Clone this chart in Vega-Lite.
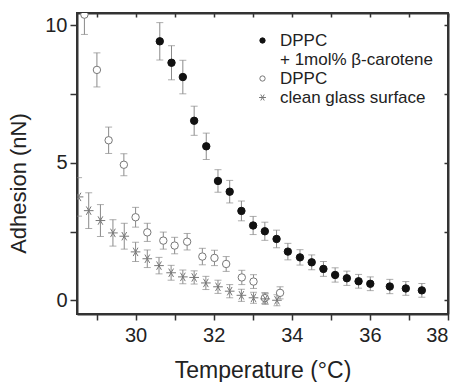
{
  "$schema": "https://vega.github.io/schema/vega-lite/v6.json",
  "width": 371,
  "height": 301,
  "autosize": {"type": "none"},
  "padding": {"left": 77, "top": 13, "right": 14, "bottom": 68},
  "background": "#ffffff",
  "config": {
    "view": {"stroke": "#333333", "strokeWidth": 2},
    "font": "Liberation Sans",
    "axis": {
      "labelFont": "Liberation Sans",
      "titleFont": "Liberation Sans",
      "labelColor": "#222222",
      "titleColor": "#222222",
      "titleFontWeight": "normal",
      "domain": true,
      "ticks": true,
      "domainColor": "#333333",
      "domainWidth": 2,
      "domainOpacity": 1,
      "tickColor": "#333333",
      "tickWidth": 1.5,
      "tickOpacity": 1,
      "grid": false,
      "labelFontSize": 20,
      "titleFontSize": 23
    }
  },
  "data": {
    "values": [
      {"series": "DPPC + 1mol% β-carotene", "T": 30.62, "A": 9.42, "err": 0.68},
      {"series": "DPPC + 1mol% β-carotene", "T": 30.92, "A": 8.64, "err": 0.62},
      {"series": "DPPC + 1mol% β-carotene", "T": 31.21, "A": 8.12, "err": 0.61},
      {"series": "DPPC + 1mol% β-carotene", "T": 31.5, "A": 6.53, "err": 0.53},
      {"series": "DPPC + 1mol% β-carotene", "T": 31.81, "A": 5.6, "err": 0.48},
      {"series": "DPPC + 1mol% β-carotene", "T": 32.11, "A": 4.34, "err": 0.41},
      {"series": "DPPC + 1mol% β-carotene", "T": 32.41, "A": 3.95, "err": 0.41},
      {"series": "DPPC + 1mol% β-carotene", "T": 32.71, "A": 3.25, "err": 0.36},
      {"series": "DPPC + 1mol% β-carotene", "T": 33.01, "A": 2.72, "err": 0.33},
      {"series": "DPPC + 1mol% β-carotene", "T": 33.31, "A": 2.51, "err": 0.33},
      {"series": "DPPC + 1mol% β-carotene", "T": 33.61, "A": 2.23, "err": 0.32},
      {"series": "DPPC + 1mol% β-carotene", "T": 33.9, "A": 1.77, "err": 0.3},
      {"series": "DPPC + 1mol% β-carotene", "T": 34.21, "A": 1.56, "err": 0.28},
      {"series": "DPPC + 1mol% β-carotene", "T": 34.51, "A": 1.38, "err": 0.27},
      {"series": "DPPC + 1mol% β-carotene", "T": 34.81, "A": 1.14, "err": 0.27},
      {"series": "DPPC + 1mol% β-carotene", "T": 35.11, "A": 0.92, "err": 0.26},
      {"series": "DPPC + 1mol% β-carotene", "T": 35.41, "A": 0.8, "err": 0.26},
      {"series": "DPPC + 1mol% β-carotene", "T": 35.71, "A": 0.69, "err": 0.25},
      {"series": "DPPC + 1mol% β-carotene", "T": 36.01, "A": 0.6, "err": 0.25},
      {"series": "DPPC + 1mol% β-carotene", "T": 36.51, "A": 0.5, "err": 0.26},
      {"series": "DPPC + 1mol% β-carotene", "T": 36.92, "A": 0.43, "err": 0.25},
      {"series": "DPPC + 1mol% β-carotene", "T": 37.33, "A": 0.36, "err": 0.25},
      {"series": "DPPC", "T": 28.69, "A": 10.39, "err": 0.72},
      {"series": "DPPC", "T": 29.01, "A": 8.38, "err": 0.62},
      {"series": "DPPC", "T": 29.31, "A": 5.82, "err": 0.48},
      {"series": "DPPC", "T": 29.7, "A": 4.93, "err": 0.4},
      {"series": "DPPC", "T": 30.0, "A": 3.02, "err": 0.36},
      {"series": "DPPC", "T": 30.3, "A": 2.47, "err": 0.33},
      {"series": "DPPC", "T": 30.71, "A": 2.17, "err": 0.31},
      {"series": "DPPC", "T": 31.0, "A": 1.99, "err": 0.3},
      {"series": "DPPC", "T": 31.32, "A": 2.13, "err": 0.3},
      {"series": "DPPC", "T": 31.71, "A": 1.59, "err": 0.3},
      {"series": "DPPC", "T": 32.02, "A": 1.54, "err": 0.28},
      {"series": "DPPC", "T": 32.32, "A": 1.32, "err": 0.27},
      {"series": "DPPC", "T": 32.72, "A": 0.83, "err": 0.26},
      {"series": "DPPC", "T": 33.02, "A": 0.68, "err": 0.25},
      {"series": "DPPC", "T": 33.31, "A": 0.08, "err": 0.2},
      {"series": "DPPC", "T": 33.7, "A": 0.27, "err": 0.22},
      {"series": "clean glass surface", "T": 28.54, "A": 3.76, "err": 0.7},
      {"series": "clean glass surface", "T": 28.8, "A": 3.26, "err": 0.65},
      {"series": "clean glass surface", "T": 29.1, "A": 2.9, "err": 0.58},
      {"series": "clean glass surface", "T": 29.42, "A": 2.45, "err": 0.48},
      {"series": "clean glass surface", "T": 29.71, "A": 2.33, "err": 0.47},
      {"series": "clean glass surface", "T": 30.0, "A": 1.76, "err": 0.35},
      {"series": "clean glass surface", "T": 30.3, "A": 1.51, "err": 0.32},
      {"series": "clean glass surface", "T": 30.6, "A": 1.26, "err": 0.3},
      {"series": "clean glass surface", "T": 30.91, "A": 1.0, "err": 0.27},
      {"series": "clean glass surface", "T": 31.21, "A": 0.85, "err": 0.25},
      {"series": "clean glass surface", "T": 31.5, "A": 0.83, "err": 0.24},
      {"series": "clean glass surface", "T": 31.8, "A": 0.63, "err": 0.24},
      {"series": "clean glass surface", "T": 32.11, "A": 0.49, "err": 0.24},
      {"series": "clean glass surface", "T": 32.41, "A": 0.33, "err": 0.24},
      {"series": "clean glass surface", "T": 32.71, "A": 0.18, "err": 0.22},
      {"series": "clean glass surface", "T": 33.02, "A": 0.09, "err": 0.2},
      {"series": "clean glass surface", "T": 33.32, "A": 0.05, "err": 0.2},
      {"series": "clean glass surface", "T": 33.62, "A": 0.0, "err": 0.2}
    ]
  },
  "resolve": {"scale": {"x": "shared", "y": "shared"}, "axis": {"x": "independent", "y": "independent"}},
  "layer": [
    {
      "mark": {"type": "point", "opacity": 0},
      "encoding": {
        "x": {
          "field": "T", "type": "quantitative",
          "scale": {"domain": [28.5, 38], "nice": false, "zero": false},
          "axis": {
            "orient": "bottom", "title": "Temperature (°C)",
            "values": [29, 30, 31, 32, 33, 34, 35, 36, 37, 38],
            "labelExpr": "datum.value % 2 === 0 ? datum.label : ''",
            "tickSize": 6,
            "labelPadding": 5, "titlePadding": 14
          }
        },
        "y": {
          "field": "A", "type": "quantitative",
          "scale": {"domain": [-0.5, 10.45], "nice": false, "zero": false},
          "axis": {
            "orient": "left", "title": "Adhesion (nN)", "titleFontSize": 22,
            "values": [0, 2.5, 5, 7.5, 10],
            "labelExpr": "datum.value % 5 === 0 ? datum.label : ''",
            "tickSize": 7,
            "labelPadding": 3, "titlePadding": 14, "titleY": 170
          }
        }
      }
    },
    {
      "mark": {"type": "point", "opacity": 0},
      "encoding": {
        "x": {
          "field": "T", "type": "quantitative",
          "axis": {
            "orient": "top", "title": null, "labels": false,
            "values": [29, 30, 31, 32, 33, 34, 35, 36, 37, 38],
            "tickSize": -4
          }
        },
        "y": {
          "field": "A", "type": "quantitative",
          "axis": {
            "orient": "right", "title": null, "labels": false,
            "values": [0, 2.5, 5, 7.5, 10],
            "tickSize": -4
          }
        }
      }
    },
    {
      "mark": {"type": "errorbar", "color": "#8a8a8a", "clip": true, "ticks": {"size": 7, "thickness": 1, "color": "#8a8a8a"}, "rule": {"strokeWidth": 1}},
      "encoding": {
        "x": {"field": "T", "type": "quantitative", "axis": null},
        "y": {"field": "A", "type": "quantitative", "axis": null},
        "yError": {"field": "err"}
      }
    },
    {
      "mark": {"type": "point", "opacity": 1, "strokeWidth": 1, "clip": true},
      "encoding": {
        "x": {"field": "T", "type": "quantitative", "axis": null},
        "y": {"field": "A", "type": "quantitative", "axis": null},
        "shape": {
          "field": "series", "type": "nominal",
          "scale": {
            "domain": ["DPPC + 1mol% β-carotene", "+ 1mol% β-carotene", "DPPC", "clean glass surface"],
            "range": ["circle", "circle", "circle", "M-1.3,0L1.3,0M-0.65,-1.13L0.65,1.13M-0.65,1.13L0.65,-1.13"]
          },
          "legend": {"orient": "none", "legendX": 177, "legendY": 19, "title": null, "labelFont": "Liberation Sans", "labelFontSize": 17, "labelColor": "#222222", "symbolSize": 28, "rowPadding": 1, "labelOffset": 9, "padding": 0, "labelExpr": "datum.label === 'DPPC + 1mol% β-carotene' ? 'DPPC' : datum.label", "symbolStrokeWidth": 1}
        },
        "fill": {
          "field": "series", "type": "nominal",
          "scale": {
            "domain": ["DPPC + 1mol% β-carotene", "+ 1mol% β-carotene", "DPPC", "clean glass surface"],
            "range": ["#111111", "transparent", "#ffffff", "transparent"]
          },
          "legend": {"orient": "none", "legendX": 177, "legendY": 19, "title": null, "labelFont": "Liberation Sans", "labelFontSize": 17, "labelColor": "#222222", "symbolSize": 28, "rowPadding": 1, "labelOffset": 9, "padding": 0, "labelExpr": "datum.label === 'DPPC + 1mol% β-carotene' ? 'DPPC' : datum.label", "symbolStrokeWidth": 1}
        },
        "stroke": {
          "field": "series", "type": "nominal",
          "scale": {
            "domain": ["DPPC + 1mol% β-carotene", "+ 1mol% β-carotene", "DPPC", "clean glass surface"],
            "range": ["#111111", "transparent", "#777777", "#777777"]
          },
          "legend": {"orient": "none", "legendX": 177, "legendY": 19, "title": null, "labelFont": "Liberation Sans", "labelFontSize": 17, "labelColor": "#222222", "symbolSize": 28, "rowPadding": 1, "labelOffset": 9, "padding": 0, "labelExpr": "datum.label === 'DPPC + 1mol% β-carotene' ? 'DPPC' : datum.label", "symbolStrokeWidth": 1}
        },
        "size": {"value": 55}
      }
    }
  ]
}
